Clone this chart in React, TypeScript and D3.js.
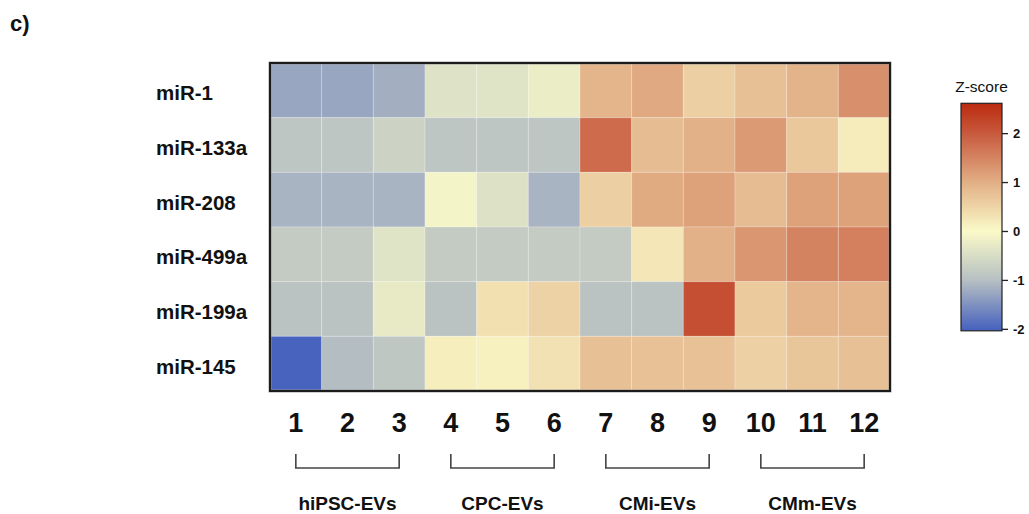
import React from "react";
import * as d3 from "d3";

const rows = ["miR-1", "miR-133a", "miR-208", "miR-499a", "miR-199a", "miR-145"];
const columns = ["1", "2", "3", "4", "5", "6", "7", "8", "9", "10", "11", "12"];
const groups = ["hiPSC-EVs", "CPC-EVs", "CMi-EVs", "CMm-EVs"];
const groupStart = [0, 3, 6, 9];
const groupEnd = [2, 5, 8, 11];

const zMiR1 = [-1.27, -1.27, -1.17, -0.41, -0.38, -0.22, 0.93, 1.07, 0.57, 0.78, 0.94, 1.38];
const zMiR133a = [-0.88, -0.88, -0.68, -0.88, -0.88, -0.88, 1.8, 0.82, 0.97, 1.25, 0.67, 0.2];
const zMiR208 = [-1.12, -1.12, -1.12, -0.1, -0.43, -1.12, 0.58, 1.05, 1.15, 0.82, 1.15, 1.15];
const zMiR499a = [-0.8, -0.8, -0.38, -0.8, -0.8, -0.8, -0.8, 0.27, 0.98, 1.3, 1.52, 1.55];
const zMiR199a = [-0.93, -0.93, -0.27, -0.93, 0.35, 0.53, -0.93, -0.93, 2.14, 0.63, 0.93, 0.93];
const zMiR145 = [-2.0, -1.02, -0.87, 0.16, 0.13, 0.33, 0.78, 0.76, 0.76, 0.55, 0.7, 0.78];
const values = [zMiR1, zMiR133a, zMiR208, zMiR499a, zMiR199a, zMiR145];

const colorStops = [-2.03, -1, 0, 1, 2, 2.62];
const colorRange = ["#4560BE", "#B6BFC2", "#FAFAC8", "#E2AF86", "#C85A3E", "#BB2A0F"];
const legendTicks = [2, 1, 0, -1, -2];

const FONT = "'Liberation Sans', Arial, Helvetica, sans-serif";

export default function App() {
  const left = 270, right = 890, top = 63, bottom = 391;
  const x = d3.scaleBand<string>().domain(columns).range([left, right]).padding(0);
  const y = d3.scaleBand<string>().domain(rows).range([top, bottom]).padding(0);
  const color = d3
    .scaleLinear<string>()
    .domain(colorStops)
    .range(colorRange)
    .interpolate(d3.interpolateRgb)
    .clamp(true);

  const legX = 961, legW = 41, legTop = 103.3, legBottom = 330.8;
  const legY = d3.scaleLinear().domain([-2.03, 2.62]).range([legBottom, legTop]);
  const gradStops = d3.range(0, 1.0001, 0.02).map((t) => {
    const v = -2.03 + t * (2.62 + 2.03);
    return { offset: t, c: color(v) };
  });

  const cx = (c: string) => (x(c) as number) + x.bandwidth() / 2;
  const cy = (r: string) => (y(r) as number) + y.bandwidth() / 2;

  return (
    <svg
      width={1029}
      height={514}
      style={{ position: "absolute", left: 0, top: 0, background: "#fff" }}
      fontFamily={FONT}
    >
      <defs>
        <linearGradient id="zgrad" x1="0" y1="1" x2="0" y2="0">
          {gradStops.map((s, i) => (
            <stop key={i} offset={s.offset} stopColor={s.c} />
          ))}
        </linearGradient>
      </defs>
      <rect width={1029} height={514} fill="#fff" />
      <text x={10} y={31} fontSize={22} fontWeight="bold" fill="#111">c)</text>

      {/* cells */}
      {rows.map((r, ri) =>
        columns.map((c, ci) => (
          <rect
            key={r + c}
            x={x(c)}
            y={y(r)}
            width={x.bandwidth()}
            height={y.bandwidth()}
            fill={color(values[ri][ci])}
            stroke="rgba(255,255,255,0.22)"
            strokeWidth={1}
          />
        ))
      )}
      <rect x={left} y={top} width={right - left} height={bottom - top} fill="none" stroke="#bbb" strokeWidth={3.5} opacity={0.5} />
      <rect x={left} y={top} width={right - left} height={bottom - top} fill="none" stroke="#1c1c1c" strokeWidth={2.2} />

      {/* row labels */}
      {rows.map((r) => (
        <text key={r} x={156} y={cy(r) + 10} fontSize={20.5} fontWeight="bold" fill="#111">
          {r}
        </text>
      ))}

      {/* column labels */}
      {columns.map((c) => (
        <text key={c} x={cx(c)} y={432} fontSize={27} fontWeight="bold" textAnchor="middle" fill="#111">
          {c}
        </text>
      ))}

      {/* group brackets */}
      {groups.map((g, gi) => {
        const x1 = cx(columns[groupStart[gi]]);
        const x2 = cx(columns[groupEnd[gi]]);
        return (
          <g key={g}>
            <path
              d={`M${x1},454 V468 H${x2} V454`}
              fill="none"
              stroke="#444"
              strokeWidth={1.6}
            />
            <text x={(x1 + x2) / 2} y={510} fontSize={19} fontWeight="bold" textAnchor="middle" fill="#111">
              {g}
            </text>
          </g>
        );
      })}

      {/* legend */}
      <text x={981.5} y={92} fontSize={15.5} textAnchor="middle" fill="#111">Z-score</text>
      <rect x={legX} y={legTop} width={legW} height={legBottom - legTop} fill="url(#zgrad)" stroke="#222" strokeWidth={1.2} />
      {legendTicks.map((t) => (
        <g key={t}>
          <line x1={legX + legW} x2={legX + legW + 6} y1={legY(t)} y2={legY(t)} stroke="#222" strokeWidth={1.3} />
          <text x={1013} y={legY(t) + 4.6} fontSize={13} fontWeight="bold" fill="#111">
            {t}
          </text>
        </g>
      ))}
    </svg>
  );
}
